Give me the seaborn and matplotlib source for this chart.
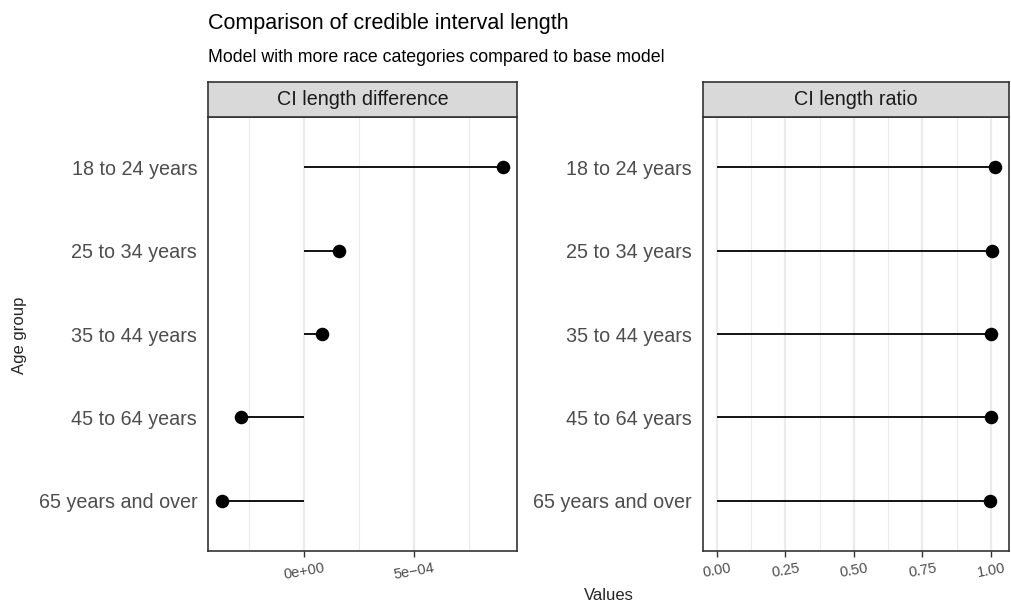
import matplotlib
matplotlib.use("Agg")
import matplotlib.pyplot as plt
import seaborn as sns
import pandas as pd
import numpy as np
from matplotlib.ticker import MultipleLocator

sns.set_theme(style="white")
plt.rcParams['font.family'] = ['Liberation Sans', 'DejaVu Sans']

age_groups = ["18 to 24 years", "25 to 34 years", "35 to 44 years",
              "45 to 64 years", "65 years and over"]
ci_diff = [9.05e-4, 1.58e-4, 0.80e-4, -2.89e-4, -3.73e-4]
ci_ratio = [1.016, 1.0036, 1.0014, 0.999, 0.9964]
panel_titles = ["CI length difference", "CI length ratio"]
diff_ticks = [0.0, 5e-4]
diff_ticklabels = ["0e+00", "5e\u221204"]
ratio_ticks = [0.0, 0.25, 0.5, 0.75, 1.0]
ratio_ticklabels = ["0.00", "0.25", "0.50", "0.75", "1.00"]

W, H = 1012, 610
fig = plt.figure(figsize=(W / 100, H / 100), dpi=100)

def px_axes(x0, x1, ytop, ybot):
    return fig.add_axes([x0 / W, 1 - ybot / H, (x1 - x0) / W, (ybot - ytop) / H])

panels = [
    (208.3, 516.7, ci_diff, diff_ticks, diff_ticklabels, 2.5e-4),
    (702.7, 1009.3, ci_ratio, ratio_ticks, ratio_ticklabels, 0.125),
]
ytop, ybot = 117, 551
strip_top = 82

for (x0, x1, vals, ticks, ticklabels, minor), title in zip(panels, panel_titles):
    ax = px_axes(x0, x1, ytop, ybot)
    df = pd.DataFrame({"age": age_groups, "value": vals})
    ypos = np.arange(len(age_groups))
    ax.hlines(ypos, 0, df["value"], color="black", lw=1.3, zorder=3)
    sns.scatterplot(data=df, x="value", y="age", ax=ax, color="black",
                    s=95, edgecolor="black", linewidth=0, zorder=4, legend=False)
    lo = min(0, min(vals)); hi = max(0, max(vals)); r = hi - lo
    ax.set_xlim(lo - 0.05 * r, hi + 0.05 * r)
    ax.set_ylim(len(age_groups) - 1 + 0.6, -0.6)
    ax.set_xticks(ticks)
    ax.set_xticklabels(ticklabels, rotation=10, ha="center", fontsize=10.5,
                       color="#4D4D4D")
    ax.xaxis.set_minor_locator(MultipleLocator(minor))
    ax.set_yticks(ypos)
    ax.set_yticklabels(age_groups, fontsize=14.2, color="#4D4D4D")
    ax.tick_params(axis="y", length=0, pad=8)
    ax.tick_params(axis="x", which="major", length=4.3, width=1.0, color="#333333",
                   pad=3, bottom=True)
    ax.tick_params(axis="x", which="minor", length=0)
    ax.grid(True, axis="x", which="major", color="#EBEBEB", lw=1.6, zorder=0)
    ax.grid(True, axis="x", which="minor", color="#EBEBEB", lw=0.8, zorder=0)
    ax.grid(False, axis="y")
    ax.set_xlabel(""); ax.set_ylabel("")
    for sp in ax.spines.values():
        sp.set_color("#333333"); sp.set_linewidth(1.2); sp.set_visible(True)
    ax.set_axisbelow(True)
    # strip
    sax = px_axes(x0, x1, strip_top, ytop)
    sax.set_facecolor("#D9D9D9")
    sax.set_xticks([]); sax.set_yticks([])
    for sp in sax.spines.values():
        sp.set_color("#333333"); sp.set_linewidth(1.2); sp.set_visible(True)
    sax.text(0.5, 0.5, title, ha="center", va="center", fontsize=14.2,
             color="#1A1A1A", transform=sax.transAxes)

fig.text(208.5 / W, 1 - 29 / H, "Comparison of credible interval length",
         fontsize=15.5, color="black", ha="left", va="baseline")
fig.text(208.5 / W, 1 - 62 / H, "Model with more race categories compared to base model",
         fontsize=12.8, color="black", ha="left", va="baseline")
fig.text(609 / W, 1 - 595 / H, "Values", fontsize=12, ha="center", va="center")
fig.text(20 / W, 1 - 335 / H, "Age group", fontsize=12, ha="center", va="center",
         rotation=90)

fig.savefig("out.png", dpi=100, facecolor="white")
